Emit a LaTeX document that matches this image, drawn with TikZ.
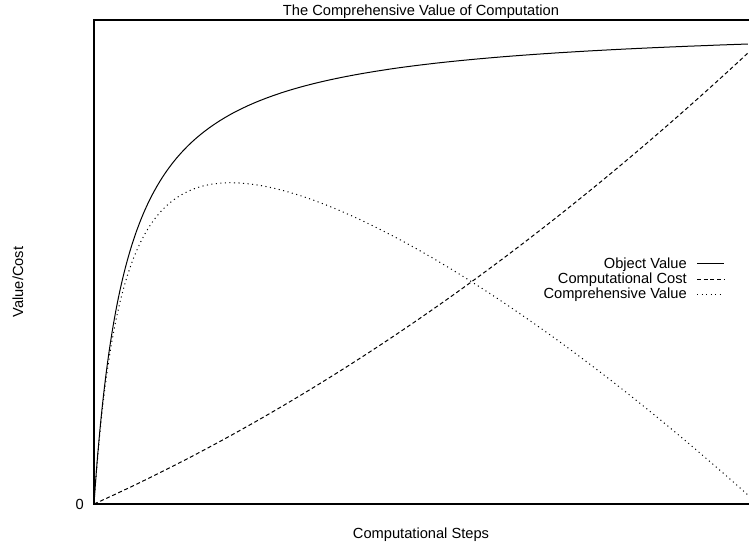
\documentclass[tikz,border=0pt]{standalone}
\usepackage{fontspec}
\setmainfont{Liberation Sans}
\usepackage{tikz}
\usetikzlibrary{calc,positioning}
\tikzset{
lbl/.style={inner sep=0pt,font=\fontsize{11}{13}\selectfont},
keytext/.style={lbl,anchor=east,text height=1.55ex,text depth=0.25ex},
objcurve/.style={line width=0.75pt},
costcurve/.style={line width=0.75pt,dash pattern=on 3pt off 2pt},
compcurve/.style={line width=0.75pt,dash pattern=on 0.8pt off 2.6pt}
}

\begin{document}
\begin{tikzpicture}[x=0.75pt,y=0.75pt]
		\useasboundingbox (-94,-44) rectangle (655,504);

		% frame
		\coordinate (orig) at (0,0);
		\coordinate (topr) at (658,484);
		\draw[line width=0.85pt] (orig) rectangle (topr);

		% curves
		\draw[objcurve] plot[domain=0:1,samples=300,smooth,variable=\s]
		({655*\s*\s},{483*\s*\s/(\s*\s+0.05)});
		\draw[costcurve] plot[domain=0:1,samples=120,smooth]
		({655*\x},{452*(0.653*\x+0.347*\x*\x)});
		\draw[compcurve] plot[domain=0:1,samples=300,smooth,variable=\s]
		({655*\s*\s},{483*\s*\s/(\s*\s+0.05)-452*(0.653*\s*\s+0.347*\s*\s*\s*\s)});

		% texts
		\node[lbl] (title) at (327,492) {The Comprehensive Value of Computation};
		\node[lbl] (xlabel) at (327,-31) {Computational Steps};
		\node[lbl,rotate=90] (ylabel) at (-76,222) {Value/Cost};
		\node[lbl,anchor=east] (zero) at (-10,0) {0};

		% key
		\node[keytext] (keyobj) at (593,240) {Object Value};
		\node[keytext,below=1.5pt of keyobj.south east,anchor=north east] (keycost) {Computational Cost};
		\node[keytext,below=1.5pt of keycost.south east,anchor=north east] (keycomp) {Comprehensive Value};
		\draw[objcurve] ($(keyobj.east)+(10,0)$) -- ++(27,0);
		\draw[costcurve] ($(keycost.east)+(10,0)$) -- ++(27,0);
		\draw[compcurve] ($(keycomp.east)+(10,0)$) -- ++(27,0);
\end{tikzpicture}
\end{document}
